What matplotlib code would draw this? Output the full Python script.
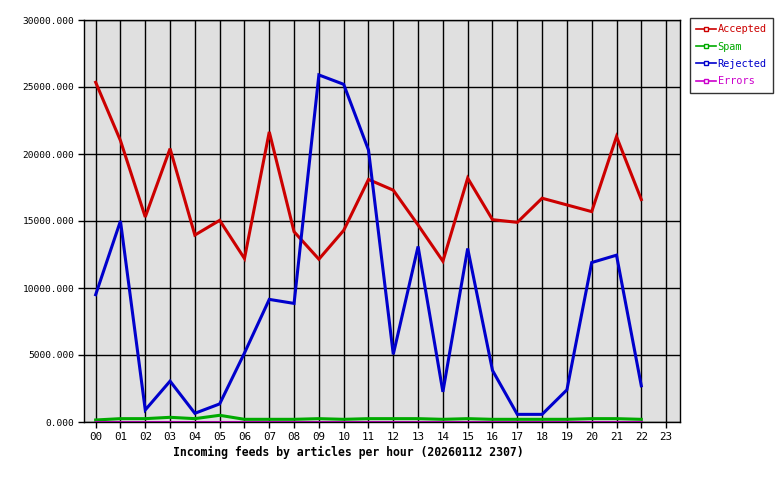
import matplotlib
matplotlib.use("Agg")
import matplotlib.pyplot as plt
from matplotlib.lines import Line2D

hours = ["00","01","02","03","04","05","06","07","08","09","10","11",
         "12","13","14","15","16","17","18","19","20","21","22","23"]
accepted = [25350, 21000, 15300, 20400, 13950, 15050, 12200, 21650, 14200, 12150, 14300, 18100,
            17300, 14700, 12000, 18200, 15100, 14900, 16700, 16200, 15700, 21300, 16600]
spam = [150, 250, 250, 350, 250, 500, 200, 200, 200, 250, 200, 250,
        250, 250, 200, 250, 200, 200, 200, 200, 250, 250, 200]
rejected = [9500, 15000, 900, 3050, 650, 1350, 5150, 9150, 8850, 25900, 25200, 20300,
            5050, 13100, 2250, 12950, 3850, 570, 570, 2400, 11900, 12450, 2700]
errors = [10]*23

series = [("Accepted", accepted, "#cc0000"),
          ("Spam", spam, "#00aa00"),
          ("Rejected", rejected, "#0000cc"),
          ("Errors", errors, "#cc00cc")]

mono = "DejaVu Sans Mono"
fig = plt.figure(figsize=(7.8, 4.8), dpi=100)
ax = fig.add_axes([84/780, 58/480, (680-84)/780, (422-20)/480])
ax.set_facecolor("#e0e0e0")

x = list(range(len(accepted)))
for name, vals, col in series:
    ax.plot(x, vals, color=col, lw=2.2, solid_joinstyle="miter")

ax.set_xlim(-0.47, 23.56)
ax.set_ylim(0, 30000)
ax.set_xticks(range(24))
ax.set_xticklabels(hours, fontfamily=mono, fontsize=7.8)
yt = list(range(0, 30001, 5000))
ax.set_yticks(yt)
ax.set_yticklabels([f"{v:.3f}" for v in yt], fontfamily=mono, fontsize=6.8)
ax.grid(True, color="black", lw=1.0)
ax.set_axisbelow(True)
ax.tick_params(axis="both", length=4, width=1, color="black", pad=3)
for s in ax.spines.values():
    s.set_color("black")
    s.set_linewidth(1.0)
ax.set_xlabel("Incoming feeds by articles per hour (20260112 2307)",
              fontfamily=mono, fontweight="bold", fontsize=8.3)
ax.xaxis.set_label_coords(0.443, -0.06)

handles = [Line2D([0], [0], color=c, lw=1.2, marker="s", markersize=3,
                  markerfacecolor="white", markeredgecolor=c) for _, _, c in series]
leg = fig.legend(handles, [n for n, _, _ in series], loc="upper left",
                 bbox_to_anchor=(690/780, 1 - 18/480), frameon=True, fancybox=False,
                 borderaxespad=0, prop={"family": mono, "size": 7.4},
                 handlelength=1.9, handletextpad=0.2, labelspacing=0.72,
                 borderpad=0.6)
leg.get_frame().set_edgecolor("black")
leg.get_frame().set_linewidth(1.0)
for t, (_, _, c) in zip(leg.get_texts(), series):
    t.set_color(c)

fig.savefig("out.png", dpi=100, facecolor="white")
